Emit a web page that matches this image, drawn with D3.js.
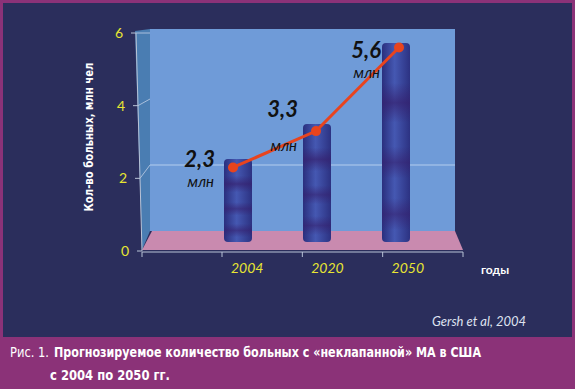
<!DOCTYPE html>
<html>
<head>
<meta charset="utf-8">
<script src="https://cdn.jsdelivr.net/npm/d3@7"></script>
<style>
  body { margin: 0; background: #8b3278; }
  svg { display: block; }
</style>
</head>
<body>
<div id="chart"></div>
<script>
// data
const years = ['2004', '2020', '2050'];
const patients = [2.3, 3.3, 5.6];
const valueLabels = ['2,3', '3,3', '5,6'];
const unitLabel = 'млн';
const yTicks = [0, 2, 4, 6];
const yTitle = 'Кол-во больных, млн чел';
const xTitle = 'годы';
const source = 'Gersh et al, 2004';
const captionLead = 'Рис. 1.';
const captionLine1 = 'Прогнозируемое количество больных с «неклапанной» МА в США';
const captionLine2 = 'с 2004 по 2050 гг.';

const width = 575;
const height = 389;

const svg = d3.select('#chart').append('svg')
  .attr('width', width)
  .attr('height', height);

// frame
svg.append('rect').attr('width', width).attr('height', height).attr('fill', '#8b3278');
svg.append('rect').attr('x', 3).attr('y', 3).attr('width', 569).attr('height', 334).attr('fill', '#2b2e5c');

// fake 3d: front plane (axis, line), middle (bars), back (wall)
const yFront = d3.scaleLinear().domain([0, 6]).range([251, 33]);
const yBar = d3.scaleLinear().domain([0, 6]).range([240, 29]);
const yWall = d3.scaleLinear().domain([0, 6]).range([231, 33]);
const xLean = d3.scaleLinear().domain([0, 6]).range([142, 136]);
const xFront = d3.scaleBand().domain(years).range([222, 463]);
const xBar = d3.scaleBand().domain(years).range([224, 461]);
const xLine = d3.scalePoint().domain(years).range([233, 399]);
const wallLeft = 150, wallRight = 455;
const barWidth = 28;

const defs = svg.append('defs');
const shade = defs.append('linearGradient').attr('id', 'barShade').attr('x1', 0).attr('x2', 1).attr('y1', 0).attr('y2', 0);
shade.append('stop').attr('offset', 0).attr('stop-color', '#2a2f7e');
shade.append('stop').attr('offset', 0.45).attr('stop-color', '#4558b2');
shade.append('stop').attr('offset', 1).attr('stop-color', '#2c3282');
const stripes = defs.append('linearGradient').attr('id', 'barStripes').attr('x1', 0).attr('x2', 0).attr('y1', 0).attr('y2', 1);
[[0, 0], [0.2, 0], [0.3, 0.7], [0.4, 0], [0.52, 0], [0.6, 0.6], [0.68, 0], [0.78, 0], [0.86, 0.6], [0.94, 0], [1, 0]]
  .forEach(s => stripes.append('stop').attr('offset', s[0]).attr('stop-color', '#35206e').attr('stop-opacity', s[1]));

// walls and floor
svg.append('rect')
  .attr('x', wallLeft).attr('y', 29)
  .attr('width', wallRight - wallLeft).attr('height', yWall(0) - 29)
  .attr('fill', '#6f9bd8');
svg.append('polygon')
  .attr('points', [[xLean(6) - 1, 31], [wallLeft, 29], [wallLeft, yWall(0)], [xLean(0), yFront(0) - 1]].join(' '))
  .attr('fill', '#4a7db2');
svg.append('polygon')
  .attr('points', [[xLean(0), yFront(0) - 1], [wallLeft + 2, yWall(0)], [wallRight, yWall(0)], [xFront.range()[1], yFront(0) - 1]].join(' '))
  .attr('fill', '#c98aaf');

// gridline on back wall and side wall
svg.append('line')
  .attr('x1', wallLeft).attr('x2', wallRight)
  .attr('y1', yWall(2)).attr('y2', yWall(2))
  .attr('stroke', '#b4cdee').attr('stroke-width', 1);
svg.selectAll('.side-grid')
  .data(yTicks.filter(d => d > 0))
  .enter().append('line')
  .attr('class', 'side-grid')
  .attr('x1', d => xLean(d)).attr('y1', d => yFront(d))
  .attr('x2', wallLeft).attr('y2', d => yWall(d))
  .attr('stroke', '#a9bfdc').attr('stroke-width', 1);

// bars
const bars = svg.selectAll('.bar')
  .data(years)
  .enter().append('g')
  .attr('class', 'bar');
bars.append('rect')
  .attr('x', d => xBar(d))
  .attr('y', (d, i) => yBar(patients[i]))
  .attr('width', barWidth)
  .attr('height', (d, i) => yBar(0) + 2 - yBar(patients[i]))
  .attr('rx', 4)
  .attr('fill', 'url(#barShade)');
bars.append('rect')
  .attr('x', d => xBar(d))
  .attr('y', (d, i) => yBar(patients[i]))
  .attr('width', barWidth)
  .attr('height', (d, i) => yBar(0) + 2 - yBar(patients[i]))
  .attr('rx', 4)
  .attr('fill', 'url(#barStripes)');

// y axis
svg.append('line')
  .attr('x1', xLean(6)).attr('y1', yFront(6))
  .attr('x2', xLean(0)).attr('y2', yFront(0))
  .attr('stroke', '#b9c3d6');
svg.selectAll('.y-tick')
  .data(yTicks)
  .enter().append('line')
  .attr('class', 'y-tick')
  .attr('x1', d => xLean(d) - 5).attr('x2', d => xLean(d))
  .attr('y1', d => yFront(d)).attr('y2', d => yFront(d))
  .attr('stroke', '#b9c3d6');
svg.selectAll('.y-label')
  .data(yTicks)
  .enter().append('text')
  .attr('class', 'y-label')
  .attr('x', d => xLean(d) - 13)
  .attr('y', d => yFront(d) + 5)
  .attr('text-anchor', 'end')
  .attr('font-family', 'Lato, "Open Sans", sans-serif')
  .attr('font-size', 14)
  .attr('fill', '#e8e632')
  .text(d => d);

// x axis
const xEdges = [xLean(0)].concat(years.map(d => xFront(d)), [xFront.range()[1]]);
svg.append('line')
  .attr('x1', xLean(0)).attr('x2', xFront.range()[1])
  .attr('y1', yFront(0) + 1).attr('y2', yFront(0) + 1)
  .attr('stroke', '#b9c3d6');
svg.selectAll('.x-tick')
  .data(xEdges)
  .enter().append('line')
  .attr('class', 'x-tick')
  .attr('x1', d => d).attr('x2', d => d)
  .attr('y1', yFront(0) + 1).attr('y2', yFront(0) + 6)
  .attr('stroke', '#b9c3d6');
svg.selectAll('.x-label')
  .data(years)
  .enter().append('text')
  .attr('class', 'x-label')
  .attr('x', d => xFront(d) + xFront.bandwidth() / 2 - 15)
  .attr('y', 273)
  .attr('text-anchor', 'middle')
  .attr('font-family', 'Lato, "Open Sans", sans-serif')
  .attr('font-style', 'italic')
  .attr('font-size', 14)
  .attr('fill', '#e8e632')
  .text(d => d);

// red line
const line = d3.line()
  .x(d => xLine(d[0]))
  .y(d => yFront(d[1]));
const points = years.map((d, i) => [d, patients[i]]);
svg.append('path')
  .attr('d', line(points))
  .attr('fill', 'none')
  .attr('stroke', '#e8441e')
  .attr('stroke-width', 3);
svg.selectAll('.dot')
  .data(points)
  .enter().append('circle')
  .attr('class', 'dot')
  .attr('cx', d => xLine(d[0]))
  .attr('cy', d => yFront(d[1]))
  .attr('r', 5)
  .attr('fill', '#e8441e');

// value labels
const labelDy = [0, -14, 10];
const unitDy = [20, 20, 30];
svg.selectAll('.value-label')
  .data(points)
  .enter().append('text')
  .attr('class', 'value-label')
  .attr('x', d => xLine(d[0]) - 18)
  .attr('y', (d, i) => yFront(d[1]) + labelDy[i])
  .attr('text-anchor', 'end')
  .attr('font-family', 'Lato, "Open Sans", sans-serif')
  .attr('font-style', 'italic')
  .attr('font-weight', 'bold')
  .attr('font-size', 22)
  .attr('fill', '#111')
  .text((d, i) => valueLabels[i]);
svg.selectAll('.unit-label')
  .data(points)
  .enter().append('text')
  .attr('class', 'unit-label')
  .attr('x', d => xLine(d[0]) - 19)
  .attr('y', (d, i) => yFront(d[1]) + unitDy[i])
  .attr('text-anchor', 'end')
  .attr('font-family', 'Lato, "Open Sans", sans-serif')
  .attr('font-style', 'italic')
  .attr('font-size', 15)
  .attr('fill', '#111')
  .text(unitLabel);

// titles
svg.append('text')
  .attr('transform', 'translate(93,137) rotate(-90)')
  .attr('text-anchor', 'middle')
  .attr('font-family', '"Liberation Sans Narrow", "DejaVu Sans Condensed", sans-serif')
  .attr('font-weight', 'bold')
  .attr('font-size', 12)
  .attr('fill', '#ffffff')
  .attr('textLength', 149)
  .attr('lengthAdjust', 'spacingAndGlyphs')
  .text(yTitle);
svg.append('text')
  .attr('x', 481).attr('y', 274)
  .attr('font-family', 'Lato, "Open Sans", sans-serif')
  .attr('font-weight', 'bold')
  .attr('font-size', 12)
  .attr('fill', '#ffffff')
  .text(xTitle);
svg.append('text')
  .attr('x', 432).attr('y', 326)
  .attr('font-family', 'Lato, "Open Sans", sans-serif')
  .attr('font-style', 'italic')
  .attr('font-size', 13)
  .attr('fill', '#dfe2f0')
  .text(source);

// caption
const captionFont = '"Liberation Sans Narrow", "DejaVu Sans Condensed", sans-serif';
svg.append('text')
  .attr('x', 10).attr('y', 357)
  .attr('font-family', captionFont)
  .attr('font-size', 14)
  .attr('fill', '#ffffff')
  .attr('textLength', 39)
  .attr('lengthAdjust', 'spacingAndGlyphs')
  .text(captionLead);
svg.append('text')
  .attr('x', 54).attr('y', 357)
  .attr('font-family', captionFont)
  .attr('font-weight', 'bold')
  .attr('font-size', 14)
  .attr('fill', '#ffffff')
  .attr('textLength', 427)
  .attr('lengthAdjust', 'spacingAndGlyphs')
  .text(captionLine1);
svg.append('text')
  .attr('x', 50).attr('y', 380)
  .attr('font-family', captionFont)
  .attr('font-weight', 'bold')
  .attr('font-size', 14)
  .attr('fill', '#ffffff')
  .attr('textLength', 120)
  .attr('lengthAdjust', 'spacingAndGlyphs')
  .text(captionLine2);
</script>
</body>
</html>
